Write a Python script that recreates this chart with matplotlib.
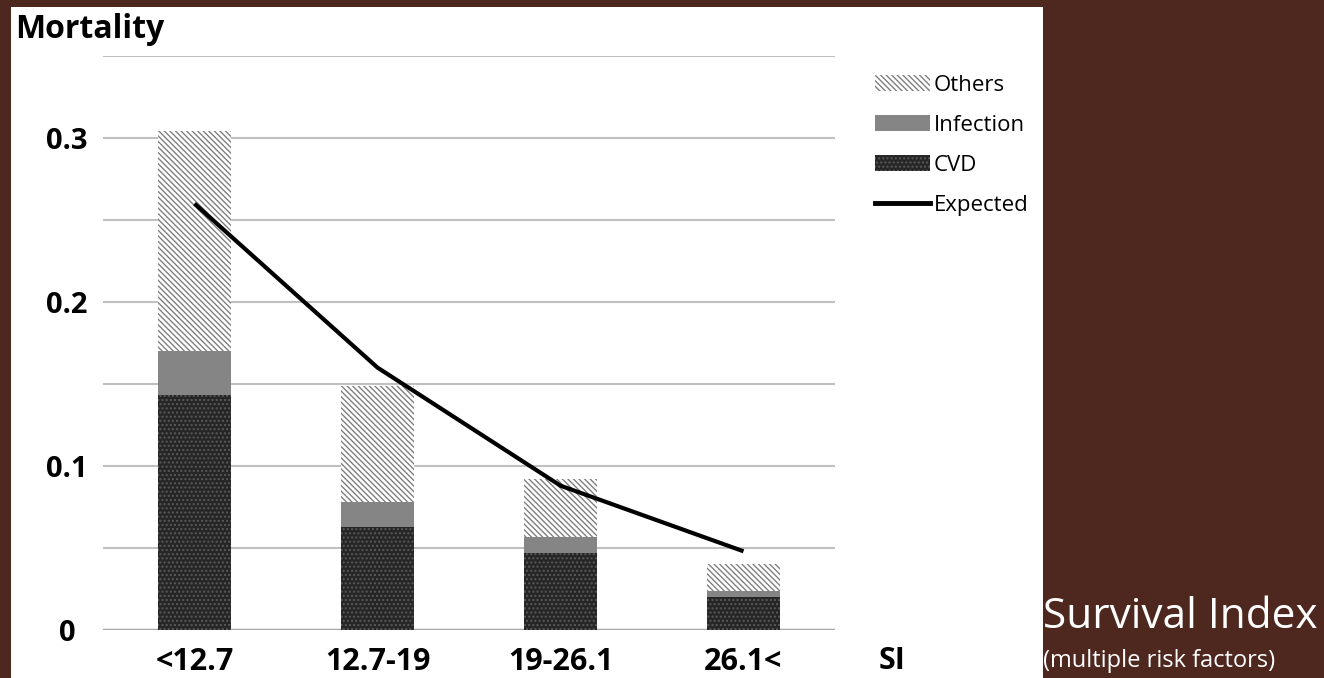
import numpy as np
import matplotlib.pyplot as plt
from matplotlib.patches import Rectangle
from matplotlib.lines import Line2D

# data
categories = ['<12.7', '12.7-19', '19-26.1', '26.1<']
cvd = [0.143, 0.063, 0.047, 0.020]
infection = [0.027, 0.015, 0.010, 0.004]
others = [0.134, 0.071, 0.035, 0.016]
expected = [0.260, 0.160, 0.088, 0.048]
yticks = [0, 0.1, 0.2, 0.3]
ytick_labels = ['0', '0.1', '0.2', '0.3']

plt.rcParams['font.family'] = ['DejaVu Sans Condensed', 'Open Sans', 'DejaVu Sans']
plt.rcParams['hatch.linewidth'] = 1.0

W, H = 1324, 678
fig = plt.figure(figsize=(W / 100, H / 100), dpi=100)
fig.patch.set_facecolor('#4e271e')

# white panel
fig.patches.append(Rectangle((11 / W, 0), 1032 / W, (H - 7) / H, transform=fig.transFigure,
                             facecolor='white', edgecolor='none', zorder=-5))

ax = fig.add_axes([103 / W, (H - 630) / H, 732 / W, 574 / H])
ax.set_facecolor('none')
ax.set_zorder(2)

x = np.arange(len(categories))
w = 0.4
b1 = np.array(cvd)
b2 = b1 + np.array(infection)

hatch_oth = '\\\\\\\\\\\\'
ax.bar(x, cvd, w, color='#262626', hatch='....', edgecolor='#5a5a5a', linewidth=0, zorder=3)
ax.bar(x, infection, w, bottom=b1, color='#858585', edgecolor='#858585', linewidth=0, zorder=3)
ax.bar(x, others, w, bottom=b2, color='white', hatch=hatch_oth, edgecolor='#808080', linewidth=0, zorder=3)
ax.plot(x, expected, color='black', lw=3, zorder=4, solid_capstyle='butt')

ax.set_xlim(-0.5, 3.5)
ax.set_ylim(0, 0.35)
for g in np.arange(0.05, 0.351, 0.05):
    ax.axhline(g, color='#c0c0c0', lw=1.5, zorder=1)
ax.axhline(0, color='#a8a8a8', lw=2.5, zorder=2)
for s in ax.spines.values():
    s.set_visible(False)
ax.set_yticks(yticks)
ax.set_yticklabels(ytick_labels, fontsize=21, fontweight='bold', ha='center')
ax.set_xticks(x)
ax.set_xticklabels(categories, fontsize=22, fontweight='bold')
ax.tick_params(length=0)
ax.tick_params(axis='x', pad=12)
ax.tick_params(axis='y', pad=26)

fig.text(15 / W, 1 - 30 / H, 'Mortality', fontsize=23, fontweight='bold', va='center', ha='left')
fig.text(892 / W, 1 - 661 / H, 'SI', fontsize=22, fontweight='bold', va='center', ha='center')

handles = [
    Rectangle((0, 0), 1, 1, facecolor='white', hatch=hatch_oth, edgecolor='#808080', linewidth=0),
    Rectangle((0, 0), 1, 1, facecolor='#858585', edgecolor='#858585', linewidth=0),
    Rectangle((0, 0), 1, 1, facecolor='#262626', hatch='....', edgecolor='#5a5a5a', linewidth=0),
    Line2D([0], [0], color='black', lw=3.5),
]
fig.legend(handles, ['Others', 'Infection', 'CVD', 'Expected'], loc='upper left',
           bbox_to_anchor=(866 / W, 1 - 66 / H), frameon=False, fontsize=16,
           handlelength=2.5, handleheight=0.7, handletextpad=0.15, labelspacing=0.85,
           borderaxespad=0)

fig.text(1043 / W, 1 - 628 / H, 'Survival Index', fontsize=30.5, color='white',
         family=['Open Sans', 'DejaVu Sans'], va='baseline', ha='left')
fig.text(1043 / W, 1 - 667 / H, '(multiple risk factors)', fontsize=17, color='white',
         family=['Open Sans', 'DejaVu Sans'], va='baseline', ha='left')

plt.savefig('out.png', dpi=100, facecolor=fig.get_facecolor())
plt.close()
